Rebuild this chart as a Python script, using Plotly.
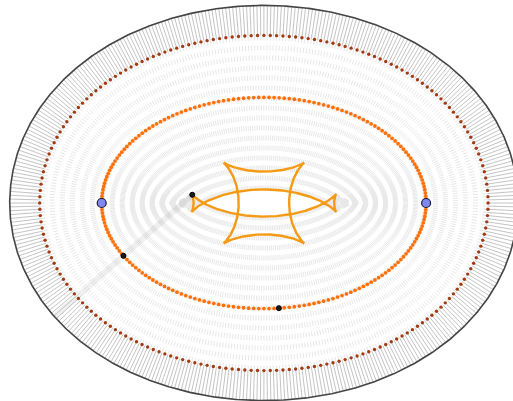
import numpy as np
import plotly.graph_objects as go

# Base ellipse (semi-axes, in pixels of the drawing)
A, B = 162.2, 105.6

# Signed offsets of the parallel curves along the outward normal
OUTER = 92.0      # outer boundary curve
RING = 62.0       # dotted ring
FISH = -92.0      # inner parallel curve with swallowtails
STAR = -137.0     # inner parallel curve with four cusps

N_NORMALS = 400
N_DOTS = 200
N_SMOOTH = 1200

MARK_T_DEG = 210.0          # parameter of the highlighted normal
BASE_MARK_T_DEG = 275.3     # extra point on the base ellipse
VERTEX_T_DEG = [0.0, 180.0]  # vertices on the major axis


def offset_curve(t, d):
    c, s = np.cos(t), np.sin(t)
    S = np.sqrt((B * c) ** 2 + (A * s) ** 2)
    nx, ny = B * c / S, A * s / S
    return A * c + d * nx, B * s + d * ny


def segments(ts, d0, d1):
    xs, ys = [], []
    for t in ts:
        x0, y0 = offset_curve(t, d0)
        x1, y1 = offset_curve(t, d1)
        xs += [x0, x1, None]
        ys += [y0, y1, None]
    return xs, ys


fig = go.Figure()

t_norm = np.linspace(0, 2 * np.pi, N_NORMALS, endpoint=False)

# Dashed normals running inward from the ring to the inner curve
xs, ys = segments(t_norm, RING, FISH)
fig.add_trace(go.Scatter(x=xs, y=ys, mode="lines", hoverinfo="skip",
                         line=dict(color="#e8e8e8", width=1, dash="5px,5px")))

# Highlighted normal, drawn wide and faint
tm = np.deg2rad(MARK_T_DEG)
xa, ya = offset_curve(tm, OUTER)
xb, yb = offset_curve(tm, FISH)
fig.add_trace(go.Scatter(x=[xa, xb], y=[ya, yb], mode="lines", hoverinfo="skip",
                         line=dict(color="rgba(0,0,0,0.06)", width=6)))

# Solid normals between the outer curve and the dotted ring
xs, ys = segments(t_norm, OUTER, RING)
fig.add_trace(go.Scatter(x=xs, y=ys, mode="lines", hoverinfo="skip",
                         line=dict(color="#bdbdbd", width=0.9)))

# Outer boundary
ts = np.linspace(0, 2 * np.pi, N_SMOOTH)
x, y = offset_curve(ts, OUTER)
fig.add_trace(go.Scatter(x=x, y=y, mode="lines", line=dict(color="#444444", width=1.6)))

# Dotted ring
td = np.linspace(0, 2 * np.pi, N_DOTS, endpoint=False)
x, y = offset_curve(td, RING)
fig.add_trace(go.Scatter(x=x, y=y, mode="markers",
                         marker=dict(color="#a03c14", size=3.4, line=dict(width=0))))

# Base ellipse as dots
x, y = offset_curve(td, 0.0)
fig.add_trace(go.Scatter(x=x, y=y, mode="markers",
                         marker=dict(color="#ff7108", size=3.8, line=dict(width=0))))

# Inner parallel curves
for d in (STAR, FISH):
    x, y = offset_curve(ts, d)
    fig.add_trace(go.Scatter(x=x, y=y, mode="lines",
                             line=dict(color="#f59a14", width=2.4)))

# Small marked points
mx, my = [], []
for d, tdeg in ((0.0, MARK_T_DEG), (FISH, MARK_T_DEG), (0.0, BASE_MARK_T_DEG)):
    px, py = offset_curve(np.deg2rad(tdeg), d)
    mx.append(px)
    my.append(py)
fig.add_trace(go.Scatter(x=mx, y=my, mode="markers",
                         marker=dict(color="#1a1a1a", size=5, line=dict(color="#000", width=1))))

# Vertices
vx, vy = offset_curve(np.deg2rad(np.array(VERTEX_T_DEG)), 0.0)
fig.add_trace(go.Scatter(x=vx, y=vy, mode="markers",
                         marker=dict(color="#7f88f2", size=9, line=dict(color="#1a1a2a", width=1.2))))

CX, CY = 263.9, 203.0
W, H = 513, 401
fig.update_layout(
    width=W, height=H, autosize=False,
    margin=dict(l=0, r=0, t=0, b=0),
    paper_bgcolor="white", plot_bgcolor="white",
    showlegend=False,
    xaxis=dict(range=[-CX, W - CX], visible=False, showgrid=False, zeroline=False, fixedrange=True),
    yaxis=dict(range=[CY - H, CY], visible=False, showgrid=False, zeroline=False, fixedrange=True),
)

fig.write_html("out.html", config={"displayModeBar": False})
